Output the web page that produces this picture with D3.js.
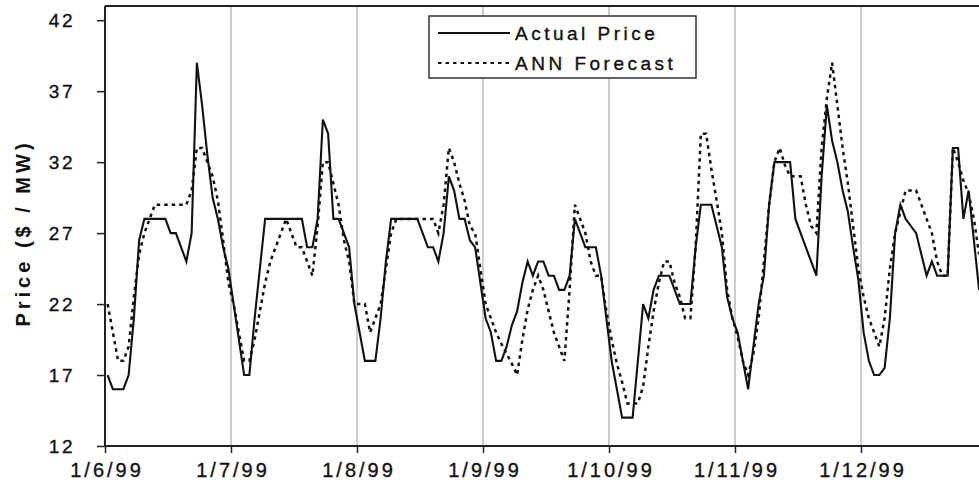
<!DOCTYPE html>
<html>
<head>
<meta charset="utf-8">
<script src="https://cdn.jsdelivr.net/npm/d3@7"></script>
<style>
  html, body { margin: 0; padding: 0; background: #fff; }
  svg { display: block; }
  text { font-family: Arial, "Liberation Sans", sans-serif; fill: #111; }
</style>
</head>
<body>
<svg id="chart" width="979" height="491"></svg>
<script>
// ---- data (hourly, starting 1/6/99 00:00) ----
const dayLabels = ["1/6/99", "1/7/99", "1/8/99", "1/9/99", "1/10/99", "1/11/99", "1/12/99"];
const yTicks = [12, 17, 22, 27, 32, 37, 42];
const seriesNames = ["Actual Price", "ANN Forecast"];

const actualPrice = [
  17, 16, 16, 16, 17, 21, 26.5, 28, 28, 28, 28, 28, 27, 27, 26, 25, 27, 39, 36, 32.5, 29.5, 28, 26, 24.5,
  22, 19.5, 17, 17, 21, 24.5, 28, 28, 28, 28, 28, 28, 28, 28, 26, 26, 28, 35, 34, 28, 28, 27, 26, 22,
  20, 18, 18, 18, 21, 25, 28, 28, 28, 28, 28, 28, 27, 26, 26, 25, 27, 31, 30, 28, 28, 26.5, 26, 23.5,
  21, 20, 18, 18, 19, 20.5, 21.5, 23.5, 25, 24, 25, 25, 24, 24, 23, 23, 24, 28, 27, 26, 26, 26, 24, 21,
  18, 16, 14, 14, 14, 18, 22, 21, 23, 24, 24, 24, 23, 22, 22, 22, 26, 29, 29, 29, 27.5, 26, 22.5, 21,
  20, 18, 16, 19, 22, 24, 29, 32, 32, 32, 32, 28, 27, 26, 25, 24, 31, 36, 33.5, 32, 30, 28.5, 26, 23.7,
  20, 18, 17, 17, 17.5, 21, 27, 29, 28, 27.5, 27, 25.5, 24, 25, 24, 24, 24, 33, 33, 28, 30, 26.5, 23
];

const annForecast = [
  22, 20, 18, 18, 19, 22.5, 25.5, 27, 28, 29, 29, 29, 29, 29, 29, 29, 30, 33, 33, 32, 31, 29.3, 26.5, 23.5,
  22, 20, 18, 18, 19.5, 21.5, 23.5, 25, 26, 27, 28, 27, 26, 26, 25, 24, 27.5, 32, 32, 30.5, 29, 26.5, 25, 22,
  22, 22, 20, 21, 22, 24.5, 27, 28, 28, 28, 28, 28, 28, 28, 28, 27, 29, 33, 32, 30.5, 29.3, 27.5, 27, 24.5,
  22, 21, 20, 19.2, 18.5, 17.8, 17, 19.5, 21.6, 23, 24, 23, 21.5, 20, 19, 18, 23, 29, 28, 27, 25, 24, 24, 21.5,
  19.5, 17.8, 16.5, 15, 15, 15, 16.2, 19, 21.5, 23.5, 25, 25, 23.5, 22.5, 21, 21, 26, 34, 34, 31.5, 29.3, 27, 23, 21,
  19.7, 18, 17, 18.5, 21, 25, 29, 32, 33, 31.8, 31, 31, 31, 29, 27.5, 27, 33, 36.5, 39, 36, 33, 30.5, 27.5, 24.5,
  22.5, 21, 20, 19, 21, 24.5, 27, 28.5, 30, 30, 30, 29, 28, 27, 25, 24, 24, 33, 32, 30.7, 29.8, 28, 25.5
];

// ---- layout ----
const W = 979, H = 491;
const mLeft = 105, mRight = 987, mTop = 6, mBottom = 446;
const svg = d3.select("#chart");

const x = d3.scaleLinear().domain([0, 168]).range([mLeft, mRight]);
const y = d3.scaleLinear().domain([12, 43]).range([mBottom, mTop]);

svg.append("defs").append("clipPath").attr("id", "plotclip")
  .append("rect").attr("x", mLeft).attr("y", mTop - 2).attr("width", W - mLeft).attr("height", mBottom - mTop + 4);

// vertical grid lines at each day
svg.append("g")
  .selectAll("line")
  .data(dayLabels.slice(1).map((d, i) => (i + 1) * 24))
  .join("line")
  .attr("x1", d => x(d)).attr("x2", d => x(d))
  .attr("y1", mTop).attr("y2", mBottom)
  .attr("stroke", "#999").attr("stroke-width", 1);

// top frame line
svg.append("line")
  .attr("x1", mLeft).attr("x2", W).attr("y1", mTop).attr("y2", mTop)
  .attr("stroke", "#222").attr("stroke-width", 2);

const textStroke = sel => sel.attr("stroke", "#111").attr("stroke-width", 0.35).attr("fill", "#111")
  .attr("font-family", "Arial, 'Liberation Sans', sans-serif");

// y axis
const yAxis = d3.axisLeft(y).tickValues(yTicks).tickSize(8).tickPadding(22).tickFormat(d3.format("d"));
const gy = svg.append("g").attr("transform", `translate(${mLeft},0)`).call(yAxis);
gy.select(".domain").attr("stroke", "#222").attr("stroke-width", 2).attr("d", `M0,${mBottom}V${mTop}`);
gy.selectAll(".tick line").attr("stroke", "#222").attr("stroke-width", 1.5);
gy.selectAll(".tick text").attr("font-size", 19).attr("letter-spacing", "2.5px").call(textStroke);

// x axis
const xAxis = d3.axisBottom(x).tickValues(dayLabels.map((d, i) => i * 24)).tickSize(7).tickPadding(10)
  .tickFormat((d, i) => dayLabels[i]);
const gx = svg.append("g").attr("transform", `translate(0,${mBottom})`).call(xAxis);
gx.select(".domain").attr("stroke", "#222").attr("stroke-width", 2).attr("d", `M${mLeft},0H${W}`);
gx.selectAll(".tick line").attr("stroke", "#222").attr("stroke-width", 1.5);
gx.selectAll(".tick text").attr("font-size", 20).attr("letter-spacing", "3px").attr("dx", 1.5).call(textStroke);

// y title
svg.append("text")
  .attr("transform", `translate(30,233) rotate(-90)`)
  .attr("text-anchor", "middle")
  .attr("font-size", 20).attr("font-weight", "bold").attr("letter-spacing", "4px")
  .text("Price ($ / MW)");

// lines
const line = d3.line().x((d, i) => x(i + 0.5)).y(d => y(d));
const plot = svg.append("g").attr("clip-path", "url(#plotclip)");
plot.append("path").datum(annForecast)
  .attr("fill", "none").attr("stroke", "#111").attr("stroke-width", 2.5)
  .attr("stroke-dasharray", "3.5,4")
  .attr("d", line);
plot.append("path").datum(actualPrice)
  .attr("fill", "none").attr("stroke", "#111").attr("stroke-width", 2.1)
  .attr("stroke-linejoin", "miter")
  .attr("d", line);

// legend
const lg = svg.append("g");
lg.append("rect").attr("x", 429).attr("y", 16).attr("width", 267).attr("height", 62)
  .attr("fill", "#fff").attr("stroke", "#333").attr("stroke-width", 1.5);
const legRows = [
  { name: seriesNames[0], dash: null, yy: 33 },
  { name: seriesNames[1], dash: "3.5,4", yy: 63 }
];
legRows.forEach(r => {
  lg.append("line").attr("x1", 438).attr("x2", 510).attr("y1", r.yy).attr("y2", r.yy)
    .attr("stroke", "#111").attr("stroke-width", 2.2)
    .attr("stroke-dasharray", r.dash);
  lg.append("text").attr("x", 515).attr("y", r.yy + 7)
    .attr("font-size", 19).attr("letter-spacing", "3.5px")
    .call(textStroke)
    .text(r.name);
});
</script>
</body>
</html>
